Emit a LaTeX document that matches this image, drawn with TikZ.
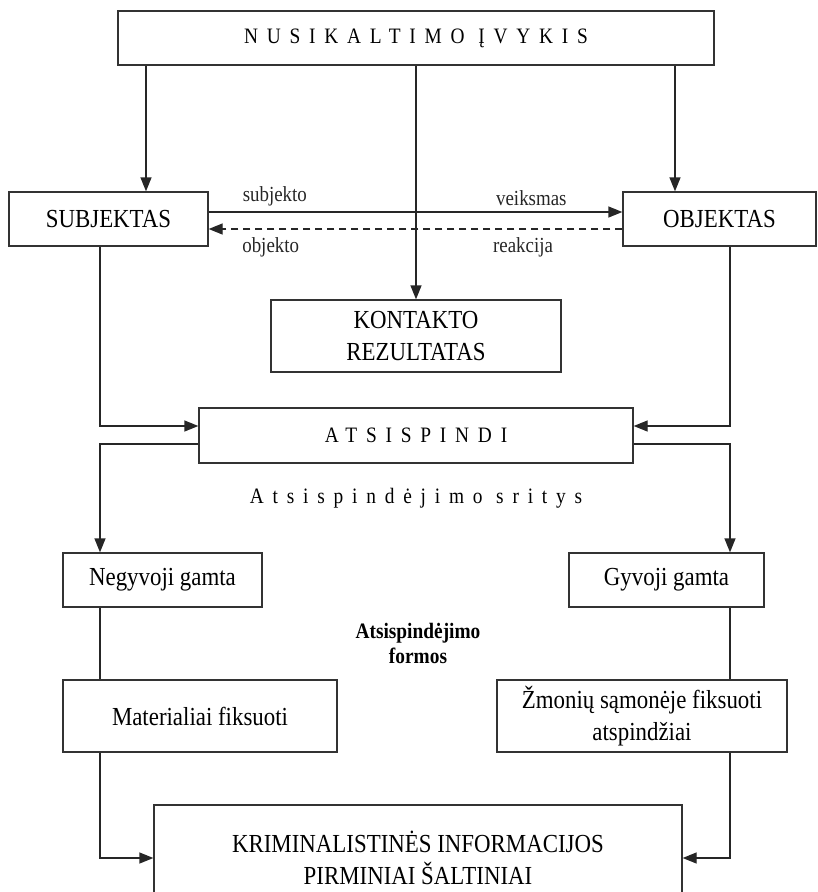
\documentclass[tikz,border=0pt]{standalone}
\usepackage{fontspec}
\setmainfont{Liberation Serif}[FakeStretch=0.88]
\newfontfamily\spacedfont{Liberation Serif}[FakeStretch=0.88, LetterSpace=40]
\usetikzlibrary{arrows.meta}

\begin{document}
\begin{tikzpicture}[
    x=1pt, y=-1pt,
    box/.style={rectangle, draw=black!80, line width=1.3pt, inner sep=2pt, align=center, font=\fontsize{26}{32}\selectfont},
    spaced_node/.style={font=\fontsize{22}{26}\spacedfont},
    arrow_label/.style={font=\fontsize{21.5}{24}\selectfont},
    arr/.style={-{Triangle[length=14pt, width=11pt]}, line width=1.3pt, black!85},
    link/.style={line width=1.3pt, black!85}
]
  \useasboundingbox (0,0) rectangle (817,892);

  % --- Event, subject and object ---
  \node[box, spaced_node, minimum width=596, minimum height=54] (event) at (416,38) {NUSIKALTIMO ĮVYKIS};
  \node[box, minimum width=199, minimum height=54] (subj) at (108.5,219) {SUBJEKTAS};
  \node[box, minimum width=193, minimum height=54] (obj) at (719.5,219) {OBJEKTAS};
  \node[box, minimum width=290, minimum height=72] (kont) at (416,336) {KONTAKTO\\REZULTATAS};

  \draw[arr] ([xshift=37.5]subj.north |- event.south) -- ([xshift=37.5]subj.north);
  \draw[arr] ([xshift=-44.5]obj.north |- event.south) -- ([xshift=-44.5]obj.north);
  \draw[arr] (event.south) -- (kont.north);

  \draw[arr] ([yshift=7]subj.east) -- ([yshift=7]obj.west)
    node[arrow_label, pos=0.16, above=2pt] {subjekto}
    node[arrow_label, pos=0.78, above=2pt] {veiksmas};
  \draw[arr, dash pattern=on 7pt off 5pt] ([yshift=-10]obj.west) -- ([yshift=-10]subj.east)
    node[arrow_label, pos=0.85, below=5pt] {objekto}
    node[arrow_label, pos=0.24, below=5pt] {reakcija};

  % --- Reflections ---
  \node[box, spaced_node, minimum width=434, minimum height=55] (atsp) at (416,435.5) {ATSISPINDI};
  \draw[arr] ([xshift=-8.5]subj.south) |- ([yshift=9.5]atsp.west);
  \draw[arr] ([xshift=10.5]obj.south) |- ([yshift=9.5]atsp.east);

  \node[spaced_node] (sritys) at (416,498) {Atsispindėjimo sritys};

  \node[box, minimum width=199, minimum height=54] (negyv) at (162.5,580) {Negyvoji gamta};
  \node[box, minimum width=195, minimum height=54] (gyv) at (666.5,580) {Gyvoji gamta};
  \draw[arr] ([yshift=-8.5]atsp.west) -| ([xshift=-62.5]negyv.north);
  \draw[arr] ([yshift=-8.5]atsp.east) -| ([xshift=63.5]gyv.north);

  \node[align=center, font=\fontsize{22}{25}\selectfont\bfseries] (formos) at (418,643) {Atsispindėjimo\\formos};

  % --- Forms and sources ---
  \node[box, minimum width=274, minimum height=72] (mater) at (200,716) {Materialiai fiksuoti};
  \node[box, minimum width=290, minimum height=72] (zmon) at (642,716) {Žmonių sąmonėje fiksuoti\\atspindžiai};
  \draw[link] ([xshift=-62.5]negyv.south) -- ([xshift=-62.5]negyv.south |- mater.north);
  \draw[link] ([xshift=63.5]gyv.south) -- ([xshift=63.5]gyv.south |- zmon.north);

  \node[box, minimum width=528, minimum height=106] (krim) at (418,858) {KRIMINALISTINĖS INFORMACIJOS\\PIRMINIAI ŠALTINIAI};
  \draw[arr] ([xshift=-100]mater.south) |- (krim.west);
  \draw[arr] ([xshift=88]zmon.south) |- (krim.east);

\end{tikzpicture}
\end{document}
